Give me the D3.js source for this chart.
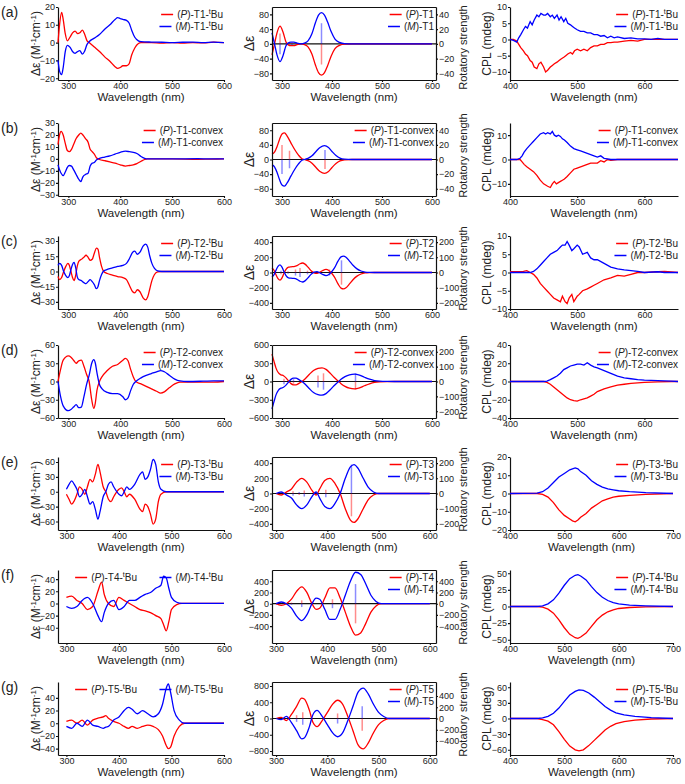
<!DOCTYPE html>
<html>
<head>
<meta charset="utf-8">
<script src="https://cdn.jsdelivr.net/npm/d3@7"></script>
<style>
  body { margin: 0; background: #fff; }
  text { font-family: "Liberation Sans", Arial, sans-serif; fill: #222; }
</style>
</head>
<body>
<svg id="fig" width="685" height="784"></svg>
<script>
// each row: [wavelength, (P) value, (M) value]

// ---- row a : T1-tBu / T1 ----
var aCD = [[280,0,-10],[283,10,-16],[287,17,-18],[290,13,-14],[294,5,-5],[298,1,-1.5],[303,3,-2.5],[308,5.5,-5],[313,6.5,-6],[318,5,-5],[322,5.5,-4.5],[327,7,-6.5],[331,5,-5],[336,1,-1],[340,0,0.5],[350,-2.5,2.5],[360,-5,4.5],[370,-8,7.5],[380,-10.5,10],[390,-13.5,13],[395,-14.5,14],[400,-14,13.5],[405,-13,13],[412,-13,12.5],[417,-12,11],[422,-7,7],[428,-3,3],[435,-0.5,1],[440,0,0.5],[460,0,0.3],[480,-0.3,0.2],[500,0,0],[520,-0.3,0.2],[540,0,0.3],[560,-0.2,0],[580,0.3,0.3],[600,0,0]];
var aCalc = [[280,-30,30],[285,0,0],[290,30,-30],[296,48,-48],[302,32,-32],[308,5,-5],[312,-2,2],[318,-5,5],[324,-5,5],[330,-2,2],[338,0,0],[345,-2,2],[352,-8,8],[360,-28,28],[367,-58,58],[373,-78,78],[379,-85,85],[385,-78,78],[391,-60,60],[398,-34,34],[406,-13,13],[415,-4,4],[425,-0.5,0.5],[440,0,0],[600,0,0]];
var aStick = [[296,14,-14],[320,2,-2],[379,-28,28]];
var aCPL = [[400,0,0],[405,0,-0.3],[410,-0.5,-0.8],[413,-1.5,0.5],[416,-2.5,1.5],[420,-3.5,3],[423,-4.5,4],[426,-5,3.5],[430,-6.5,5.5],[433,-7,4.5],[436,-8.5,6],[440,-9,7.5],[443,-7.5,7],[446,-7,8],[450,-8.5,7.5],[453,-10,7.5],[456,-9.5,8],[460,-8.5,7],[463,-8,7.5],[466,-7.5,6.5],[470,-7,7.5],[473,-6.5,6],[476,-6,7],[480,-5.5,5.5],[483,-5,6.5],[486,-4.5,5],[490,-4,4.5],[493,-4.5,4],[496,-3.5,3.5],[500,-3,3],[505,-3.5,2.5],[510,-3,2.5],[515,-3.5,2],[520,-2.5,2],[525,-2,1.5],[530,-2,1.5],[535,-1.5,1],[540,-1.5,1.2],[545,-1,0.5],[550,-1,1],[555,-0.8,0.5],[560,-0.8,0.8],[570,-0.5,0.3],[580,-0.3,0.5],[590,-0.5,0.2],[600,0,0.2],[610,0,0],[620,0,0.3],[630,0,0],[650,0,0]];

// ---- row b : T1-convex ----
var bCD = [[280,12,-5],[283,20,-9],[286,23,-12],[290,20,-14],[294,13,-11],[298,7,-7],[302,6,-5.5],[306,8,-6],[310,12,-9],[315,17,-13],[320,20,-17],[324,21.5,-19],[328,20,-15],[333,17,-13],[338,14,-12],[342,8,-6],[346,6,-3.5],[350,4,-3],[354,1,-1],[360,-0.5,0.5],[370,-1.5,1.5],[380,-2.5,2.5],[390,-3.5,4],[400,-5,5.5],[410,-6,6.5],[418,-5.5,6],[425,-5,5.5],[432,-4,4.5],[440,-2,2],[447,-0.5,0.5],[452,0,0],[500,0,0],[550,-0.3,0.2],[570,-0.2,0],[600,0,0]];
var bCalc = [[280,15,-15],[285,20,-20],[290,35,-35],[295,55,-55],[300,70,-70],[305,73,-73],[310,65,-65],[318,45,-45],[325,28,-28],[333,12,-12],[340,2,-2],[345,0,0],[352,-3,3],[360,-10,10],[368,-22,22],[376,-33,33],[385,-38,38],[393,-33,33],[400,-22,22],[408,-11,11],[416,-4,4],[425,-1,1],[440,0,0],[600,0,0]];
var bStick = [[300,20,-20],[315,12,-12],[386,-13,13]];
var bCPL = [[400,0,0],[410,0,0],[415,0,0.5],[418,-1,1.5],[421,-2,3],[425,-3,4.5],[430,-4,6],[435,-5,7.5],[440,-6.5,9],[445,-8.5,10.5],[450,-10,11],[453,-10.5,10.5],[456,-11,11],[460,-11.5,10.5],[463,-10,11.5],[466,-9,10],[469,-10,9.5],[472,-9.5,10],[475,-9,9.5],[478,-8.5,8.5],[481,-8,8],[485,-7,7],[490,-5.5,5.5],[495,-4,4.5],[500,-3.5,4],[505,-3,3.5],[510,-2.5,3],[515,-2,2.5],[520,-1.5,2],[525,-1.5,1.5],[530,-1.5,1],[535,-0.5,1.5],[540,-1,0.5],[545,0,0.3],[550,-0.3,0],[560,0,0],[600,0,0],[650,0,0]];

// ---- row c : T2-tBu / T2 ----
var cCD = [[280,-5,6],[283,-8,8],[287,-6,6],[291,0,0],[295,5,-4],[299,8,-6],[302,6,-4],[305,0,2],[308,-6,7],[311,-9,9],[314,-4,4],[317,5,-5],[320,10,-8],[325,12,-9],[330,14,-11],[334,16,-12],[338,14,-10],[342,11,-8],[346,12,-10],[350,18,-13],[354,23,-17],[357,22,-15],[360,14,-9],[364,5,-3],[368,0,0.5],[375,-2,2],[385,-3.5,3.5],[395,-5,5],[405,-6,6],[412,-8,8],[418,-14,13],[424,-20,19],[428,-21,20],[433,-18,17],[438,-20,19],[444,-26,25],[449,-28,27],[453,-25,24],[457,-17,15],[461,-9,8],[466,-3,3],[472,-0.5,0.5],[480,0,0],[600,0,0]];
var cCalc = [[280,60,-60],[284,30,-30],[288,-30,30],[292,-80,80],[296,-100,100],[300,-70,70],[304,-10,10],[308,40,-40],[313,70,-70],[318,75,-75],[324,78,-78],[330,90,-90],[336,115,-115],[341,125,-125],[346,110,-110],[352,70,-70],[358,25,-25],[364,-5,5],[370,-12,12],[376,5,-5],[382,28,-28],[388,40,-40],[393,30,-30],[398,0,0],[405,-60,60],[412,-150,150],[418,-205,205],[423,-215,215],[428,-200,200],[435,-150,150],[442,-95,95],[450,-48,48],[458,-20,20],[466,-6,6],[475,-1,1],[485,0,0],[600,0,0]];
var cStick = [[298,-12,12],[312,8,-8],[327,20,-20],[336,30,-30],[351,12,-12],[395,20,-20],[419,-80,80]];
var cCPL = [[400,0.2,0],[410,0.2,0],[420,0.3,0],[425,0.5,0],[430,0,0],[435,-0.5,0.3],[440,-1.5,1],[445,-3,2],[450,-4,3],[455,-5,4],[460,-6,5],[465,-7,5.5],[470,-7.5,6],[475,-8,7],[478,-6.5,7.5],[482,-8,7.5],[485,-8.5,8.5],[488,-7,7.5],[492,-6,6],[495,-8,6.5],[500,-6.5,7.5],[503,-6,7],[508,-5,5],[515,-4.5,5.5],[520,-4,4],[525,-3.5,3.5],[530,-3,3.5],[540,-2,2.5],[550,-1.5,1.5],[560,-0.8,1],[570,-1,0.7],[580,-0.5,0.5],[590,0,0.3],[600,0,0],[620,0.2,0.2],[630,0.3,0],[650,0,0]];

// ---- row d : T2-convex ----
var dCD = [[280,0,0],[285,20,-25],[290,35,-40],[300,42,-48],[305,40,-46],[310,35,-42],[315,30,-38],[320,34,-43],[325,35,-42],[330,25,-25],[335,12,-5],[340,0,10],[345,-30,30],[349,-44,36],[352,-35,30],[355,-15,15],[360,0,-5],[365,8,-12],[375,18,-18],[385,25,-20],[395,28,-20],[405,35,-25],[410,38,-30],[415,34,-27],[420,20,-15],[425,8,-5],[430,0,0],[440,-4,6],[450,-8,10],[460,-12,13],[470,-16,16],[478,-19,18],[485,-17,16],[495,-10,10],[505,-4,4],[515,-1,1],[530,-1,0],[560,-1,0.5],[580,-1,1],[600,0,1]];
var dCalc = [[280,450,-450],[284,330,-330],[288,220,-220],[293,140,-140],[298,110,-110],[303,95,-95],[308,60,-60],[313,10,-10],[318,-35,35],[323,-55,55],[328,-55,55],[334,-30,30],[340,0,0],[347,50,-50],[355,120,-120],[363,180,-180],[372,215,-215],[380,225,-225],[388,200,-200],[396,140,-140],[404,70,-70],[412,10,-10],[418,-35,35],[426,-80,80],[435,-110,110],[445,-120,120],[455,-105,105],[465,-70,70],[475,-38,38],[485,-15,15],[495,-5,5],[510,-1,1],[525,0,0],[600,0,0]];
var dStick = [[304,18,-18],[323,-15,15],[372,40,-40],[383,55,-55],[447,-55,55]];
var dCPL = [[400,0,0],[450,0,0],[455,-1,0.5],[460,-3,2],[465,-6,4],[470,-9,6],[475,-12,9],[480,-15,13],[485,-18,15],[490,-20,17],[495,-21,18],[500,-21.5,19],[505,-20,19],[510,-19,18],[515,-18,20.5],[520,-16,18],[525,-14,16],[530,-11,15],[540,-8,12],[550,-6,9],[560,-4,6],[570,-3,4],[580,-2,3],[590,-1.5,2],[600,-1,1.5],[620,-0.5,1],[640,0,0.5],[650,0,0]];

// ---- row e : T3-tBu / T3 ----
var eCD = [[300,-5,5],[305,-15,15],[310,-25,22],[315,-18,15],[320,-5,5],[325,10,-10],[330,5,-5],[335,-5,5],[340,10,-10],[345,25,-25],[350,20,-20],[355,35,-35],[360,55,-55],[364,40,-40],[370,10,-10],[375,0,0],[380,-15,15],[385,-20,20],[390,-10,10],[400,5,-5],[405,8,-8],[410,0,0],[415,-10,10],[420,-5,5],[430,-15,15],[440,-35,35],[445,-40,40],[450,-25,25],[455,-30,30],[460,-45,45],[465,-65,65],[470,-55,55],[475,-20,20],[480,-5,5],[490,0,0],[600,0,0]];
var eCalc = [[300,0,0],[310,-20,20],[320,20,-20],[330,60,-60],[340,150,-150],[350,200,-200],[360,150,-150],[370,40,-40],[378,-20,20],[385,60,-60],[395,170,-170],[405,200,-200],[415,130,-130],[425,0,0],[435,-200,200],[445,-350,350],[452,-380,380],[460,-330,330],[470,-200,200],[480,-80,80],[490,-20,20],[500,0,0],[600,0,0]];
var eStick = [[320,10,-10],[333,15,-15],[345,-10,10],[355,20,-20],[397,25,-25],[447,-150,190]];
var eCPL = [[400,0,0],[450,0,0.2],[460,-0.5,1],[470,-2,3],[480,-5,6],[490,-9,9],[500,-12,11],[510,-14,13],[515,-15,13.5],[520,-15.5,14],[525,-14.5,13.5],[530,-13,12],[540,-11,10],[550,-8,7],[560,-6,5],[570,-4,3.5],[580,-3,2.5],[590,-2,2],[600,-1.5,1.5],[620,-1,1],[650,-0.5,0.5],[700,0,0]];

// ---- row f : T4-tBu / T4 ----
var fCD = [[300,10,-5],[310,12,-8],[320,5,-5],[330,0,5],[340,-10,10],[350,-5,0],[360,20,-20],[367,35,-30],[372,15,-15],[380,0,0],[390,-5,5],[400,10,-10],[410,5,-5],[420,0,5],[430,-5,5],[440,-10,10],[450,-12,15],[460,-15,18],[470,-20,25],[480,-25,30],[485,-35,45],[490,-45,42],[495,-30,25],[500,-10,10],[510,-2,2],[520,0,0],[600,0,0]];
var fCalc = [[300,0,0],[310,-30,30],[320,0,0],[330,80,-80],[340,220,-220],[350,300,-300],[360,200,-200],[370,0,0],[378,-100,100],[385,-80,80],[395,100,-100],[405,280,-280],[415,280,-280],[425,100,-100],[435,-150,150],[445,-400,400],[455,-560,560],[465,-520,520],[475,-350,350],[485,-150,150],[495,-40,40],[505,0,0],[600,0,0]];
var fStick = [[330,20,-20],[350,60,-60],[410,80,-80],[455,-350,350]];
var fCPL = [[400,0,0],[450,0,0],[460,-1,1],[470,-4,4],[480,-10,10],[490,-20,20],[500,-32,32],[510,-42,42],[520,-47,47],[525,-48,48],[530,-46,46],[540,-40,40],[550,-30,30],[560,-20,21],[570,-13,14],[580,-8,9],[590,-5,6],[600,-3,4],[620,-1.5,2],[650,-0.5,1],[700,0,0]];

// ---- row g : T5-tBu / T5 ----
var gCD = [[300,3,-5],[310,5,-8],[320,0,0],[330,5,-5],[340,-3,5],[350,5,-3],[360,8,-5],[370,10,-8],[375,12,-6],[380,8,-5],[390,3,5],[400,0,10],[410,-5,20],[418,-8,25],[425,-5,22],[435,-8,15],[445,-5,20],[455,-3,15],[465,-5,10],[475,-10,15],[483,-20,30],[490,-35,55],[494,-40,62],[498,-38,50],[505,-20,20],[515,-5,5],[525,0,0],[600,0,0]];
var gCalc = [[300,0,0],[310,30,-30],[320,-50,50],[330,100,-100],[340,300,-300],[350,500,-500],[355,480,-480],[365,200,-200],[372,-100,100],[380,-200,200],[390,-50,50],[400,150,-150],[410,350,-350],[420,450,-450],[430,350,-350],[440,50,-50],[450,-300,300],[460,-650,650],[470,-750,750],[480,-600,600],[490,-350,350],[500,-150,150],[510,-50,50],[520,0,0],[600,0,0]];
var gStick = [[340,60,-60],[352,110,-110],[420,90,-90],[468,-220,220]];
var gCPL = [[400,0,0],[450,0,0],[460,-2,1],[470,-5,4],[480,-12,10],[490,-25,20],[500,-40,33],[510,-53,45],[520,-60,52],[527,-62,55],[535,-60,54],[545,-52,49],[555,-42,41],[565,-32,32],[575,-22,23],[585,-15,16],[595,-10,11],[610,-6,7],[630,-3,4],[660,-1,1.5],[700,0,0]];

// legend names: [before superscript, superscript, after]
var names1 = [["T1-","t","Bu"],["T1-convex","",""],["T2-","t","Bu"],["T2-convex","",""],["T3-","t","Bu"],["T4-","t","Bu"],["T5-","t","Bu"]];
var names2 = [["T1","",""],["T1-convex","",""],["T2","",""],["T2-convex","",""],["T3","",""],["T4","",""],["T5","",""]];
var rowLetters = ["(a)","(b)","(c)","(d)","(e)","(f)","(g)"];

var cdData = [aCD, bCD, cCD, dCD, eCD, fCD, gCD];
var calcData = [aCalc, bCalc, cCalc, dCalc, eCalc, fCalc, gCalc];
var stickData = [aStick, bStick, cStick, dStick, eStick, fStick, gStick];
var cplData = [aCPL, bCPL, cCPL, dCPL, eCPL, fCPL, gCPL];

// axis setup per row
var cdY = [[-21,20],[-31,30],[-37,35],[-60,60],[-77,70],[-65,55],[-50,65]];
var cdTicks = [[-20,-10,0,10,20],[-30,-20,-10,0,10,20,30],[-30,-15,0,15,30],[-60,-30,0,30,60],[-60,-30,0,30,60],[-40,-20,0,20,40],[-40,-20,0,20,40]];
var calcY = [[-98,100],[-100,100],[-480,480],[-600,600],[-480,480],[-700,600],[-900,900]];
var calcTicks = [[-80,-40,0,40,80],[-80,-40,0,40,80],[-400,-200,0,200,400],[-600,-300,0,300,600],[-400,-200,0,200,400],[-400,-200,0,200,400],[-800,-400,0,400,800]];
var rsY = [[-49,50],[-50,50],[-240,240],[-245,245],[-240,240],[-700,600],[-650,650]];
var rsTicks = [[-40,-20,0,20,40],[-40,-20,0,20,40],[-200,-100,0,100,200],[-200,-100,0,100,200],[-200,-100,0,100,200],[-400,-200,0,200,400],[-400,-200,0,200,400]];
var cplY = [[-12.5,10],[-15,15],[-10,10],[-40,40],[-20,20],[-55,55],[-70,70]];
var cplTicks = [[-10,-5,0,5,10],[-10,0,10],[-10,-5,0,5,10],[-40,-20,0,20,40],[-20,-10,0,10,20],[-50,-25,0,25,50],[-60,-30,0,30,60]];

var rowBottom = [80, 196, 309, 418, 530, 643, 755];
var rowH = 73;
var cols = [{x0: 58, x1: 224}, {x0: 272, x1: 436}, {x0: 510, x1: 678}];
var red = "#ff0000", blue = "#0000ff";

var svg = d3.select("#fig");

function styleAxis(g) {
  g.selectAll("path.domain").attr("stroke", "#111").attr("stroke-width", 1.2);
  g.selectAll(".tick line").attr("stroke", "#111").attr("stroke-width", 1.1);
  g.selectAll(".tick text").attr("font-size", "9px").attr("fill", "#222")
    .style("font-family", "Liberation Sans, Arial, sans-serif");
}

function bottomAxis(x, ticks, bottom) {
  svg.append("g").attr("transform", "translate(0," + bottom + ")")
    .call(d3.axisBottom(x).tickValues(ticks).tickSize(2).tickPadding(1).tickSizeOuter(0)).call(styleAxis);
}

function sideAxis(axis, y, ticks, xpos) {
  svg.append("g").attr("transform", "translate(" + xpos + ",0)")
    .call(axis(y).tickValues(ticks).tickSize(2).tickPadding(1).tickSizeOuter(0)).call(styleAxis);
}

function label(parent, x, y, color, name, ital) {
  var t = parent.append("text").attr("x", x).attr("y", y).attr("text-anchor", "end")
    .attr("font-size", "10px");
  t.append("tspan").text("(");
  t.append("tspan").attr("font-style", "italic").text(ital);
  t.append("tspan").text(")-" + name[0]);
  if (name[1]) {
    t.append("tspan").attr("dy", -4).attr("font-size", "7px").text(name[1]);
    t.append("tspan").attr("dy", 4).text(name[2]);
  }
  var w = t.node().getComputedTextLength();
  parent.append("line").attr("x1", x - w - 16).attr("x2", x - w - 4)
    .attr("y1", y - 3.5).attr("y2", y - 3.5).attr("stroke", color).attr("stroke-width", 1.5);
}

function legend(xEnd, yTop, name, horiz) {
  if (horiz) {
    label(svg, xEnd - 86, yTop + 11, red, name, "P");
    label(svg, xEnd, yTop + 11, blue, name, "M");
  } else {
    label(svg, xEnd, yTop + 11, red, name, "P");
    label(svg, xEnd, yTop + 23, blue, name, "M");
  }
}

function xLabel(cx, bottom) {
  svg.append("text").attr("x", cx).attr("y", bottom + 21).attr("text-anchor", "middle")
    .attr("font-size", "11.5px").text("Wavelength (nm)");
}

function yLabelRot(x, cy, size) {
  return svg.append("text").attr("transform", "translate(" + x + "," + cy + ") rotate(-90)")
    .attr("text-anchor", "middle").attr("font-size", size);
}

function series(data, x, y, k, color, curve) {
  var line = d3.line().x(function(d) { return x(d[0]); }).y(function(d) { return y(d[k]); }).curve(curve);
  svg.append("path").datum(data).attr("d", line).attr("fill", "none")
    .attr("stroke", color).attr("stroke-width", 1.3);
}

rowLetters.forEach(function(letter, r) {
  var bottom = rowBottom[r], top = bottom - rowH, cy = (top + bottom) / 2;
  var late = r >= 4;

  svg.append("text").attr("x", 1).attr("y", top + 10).attr("font-size", "14px").text(letter);

  // ---- column 1 : CD ----
  var c = cols[0];
  var x1 = d3.scaleLinear().domain(late ? [284, 600] : [280, 600]).range([c.x0, c.x1]);
  var y1 = d3.scaleLinear().domain(cdY[r]).range([bottom, top]);
  bottomAxis(x1, [300, 400, 500, 600], bottom);
  sideAxis(d3.axisLeft, y1, cdTicks[r], c.x0);
  series(cdData[r], x1, y1, 1, red, d3.curveMonotoneX);
  series(cdData[r], x1, y1, 2, blue, d3.curveMonotoneX);
  legend(c.x1 - 1, top, names1[r], r >= 5);
  xLabel((c.x0 + c.x1) / 2, bottom);
  var yl = yLabelRot(40, cy, "12px");
  yl.append("tspan").text("\u0394\u03b5 (M");
  yl.append("tspan").attr("dy", -4).attr("font-size", "8px").text("-1");
  yl.append("tspan").attr("dy", 4).text("cm");
  yl.append("tspan").attr("dy", -4).attr("font-size", "8px").text("-1");
  yl.append("tspan").attr("dy", 4).text(")");

  // ---- column 2 : calculated CD with rotatory strength sticks ----
  c = cols[1];
  var x2 = d3.scaleLinear().domain(late ? [292, 612] : [280, 608]).range([c.x0, c.x1]);
  var y2 = d3.scaleLinear().domain(calcY[r]).range([bottom, top]);
  var y2r = d3.scaleLinear().domain(rsY[r]).range([bottom, top]);
  svg.append("line").attr("x1", c.x0).attr("x2", c.x1).attr("y1", y2(0)).attr("y2", y2(0))
    .attr("stroke", "#111").attr("stroke-width", 1.2);
  stickData[r].forEach(function(s) {
    svg.append("line").attr("x1", x2(s[0])).attr("x2", x2(s[0])).attr("y1", y2r(0)).attr("y2", y2r(s[1]))
      .attr("stroke", red).attr("stroke-opacity", 0.45).attr("stroke-width", 1.5);
    svg.append("line").attr("x1", x2(s[0])).attr("x2", x2(s[0])).attr("y1", y2r(0)).attr("y2", y2r(s[2]))
      .attr("stroke", blue).attr("stroke-opacity", 0.45).attr("stroke-width", 1.5);
  });
  series(calcData[r], x2, y2, 1, red, d3.curveMonotoneX);
  series(calcData[r], x2, y2, 2, blue, d3.curveMonotoneX);
  bottomAxis(x2, [300, 400, 500, 600], bottom);
  svg.append("g").attr("transform", "translate(0," + top + ")")
    .call(d3.axisTop(x2).tickValues([]).tickSizeOuter(0)).call(styleAxis);
  sideAxis(d3.axisLeft, y2, calcTicks[r], c.x0);
  sideAxis(d3.axisRight, y2r, rsTicks[r], c.x1);
  legend(c.x1 - 2, top, names2[r], false);
  xLabel((c.x0 + c.x1) / 2, bottom);
  yLabelRot(254, cy, "14px").text("\u0394\u03b5");
  yLabelRot(467, r === 0 ? cy + 4 : cy - 4, "11px").text("Rotatory strength");

  // ---- column 3 : CPL ----
  c = cols[2];
  var x3 = d3.scaleLinear().domain(late ? [400, 700] : [400, 650]).range([c.x0, late ? 673 : c.x1]);
  var y3 = d3.scaleLinear().domain(cplY[r]).range([bottom, top]);
  bottomAxis(x3, late ? [400, 500, 600, 700] : [400, 500, 600], bottom);
  sideAxis(d3.axisLeft, y3, cplTicks[r], c.x0);
  series(cplData[r], x3, y3, 1, red, d3.curveLinear);
  series(cplData[r], x3, y3, 2, blue, d3.curveLinear);
  legend(c.x1, top, names1[r], false);
  xLabel((c.x0 + (late ? 673 : c.x1)) / 2, bottom);
  yLabelRot(491, cy, "12px").text("CPL (mdeg)");
});
</script>
</body>
</html>
